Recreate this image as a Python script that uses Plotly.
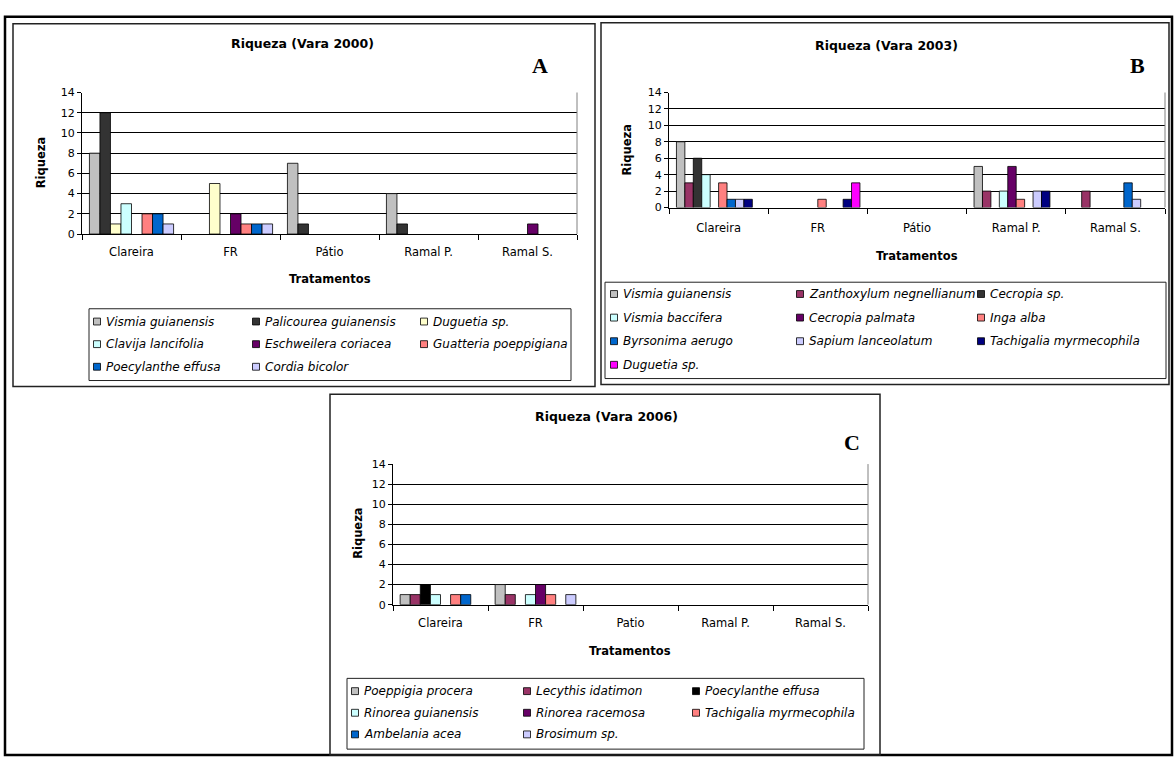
import plotly.graph_objects as go

W, H = 1174, 764


def fx(px):
    return px / W


def fy(py):
    return 1 - py / H


# ---------------- data ----------------
categories_a = ["Clareira", "FR", "Pátio", "Ramal P.", "Ramal S."]
categories_b = ["Clareira", "FR", "Pátio", "Ramal P.", "Ramal S."]
categories_c = ["Clareira", "FR", "Patio", "Ramal P.", "Ramal S."]

species_a = ["Vismia guianensis", "Palicourea guianensis", "Duguetia sp.",
             "Clavija lancifolia", "Eschweilera coriacea", "Guatteria poeppigiana",
             "Poecylanthe effusa", "Cordia bicolor"]
colors_a = ["#C0C0C0", "#333333", "#FFFFCC", "#CCFFFF", "#660066", "#FF8080",
            "#0066CC", "#CCCCFF"]
values_a = [
    [8, 0, 7, 4, 0],
    [12, 0, 1, 1, 0],
    [1, 5, 0, 0, 0],
    [3, 0, 0, 0, 0],
    [0, 2, 0, 0, 1],
    [2, 1, 0, 0, 0],
    [2, 1, 0, 0, 0],
    [1, 1, 0, 0, 0],
]

species_b = ["Vismia guianensis", "Zanthoxylum negnellianum", "Cecropia sp.",
             "Vismia baccifera", "Cecropia palmata", "Inga alba",
             "Byrsonima aerugo", "Sapium lanceolatum", "Tachigalia myrmecophila",
             "Duguetia sp."]
colors_b = ["#C0C0C0", "#993366", "#333333", "#CCFFFF", "#660066", "#FF8080",
            "#0066CC", "#CCCCFF", "#000080", "#FF00FF"]
values_b = [
    [8, 0, 0, 5, 0],
    [3, 0, 0, 2, 2],
    [6, 0, 0, 0, 0],
    [4, 0, 0, 2, 0],
    [0, 0, 0, 5, 0],
    [3, 1, 0, 1, 0],
    [1, 0, 0, 0, 3],
    [1, 0, 0, 2, 1],
    [1, 1, 0, 2, 0],
    [0, 3, 0, 0, 0],
]

species_c = ["Poeppigia procera", "Lecythis idatimon", "Poecylanthe effusa",
             "Rinorea guianensis", "Rinorea racemosa", "Tachigalia myrmecophila",
             "Ambelania acea", "Brosimum sp."]
colors_c = ["#C0C0C0", "#993366", "#000000", "#CCFFFF", "#660066", "#FF8080",
            "#0066CC", "#CCCCFF"]
values_c = [
    [1, 2, 0, 0, 0],
    [1, 1, 0, 0, 0],
    [2, 0, 0, 0, 0],
    [1, 1, 0, 0, 0],
    [0, 2, 0, 0, 0],
    [1, 1, 0, 0, 0],
    [1, 0, 0, 0, 0],
    [0, 1, 0, 0, 0],
]

titles = ["Riqueza (Vara 2000)", "Riqueza (Vara 2003)", "Riqueza (Vara 2006)"]
letters = ["A", "B", "C"]
y_ticks = [0, 2, 4, 6, 8, 10, 12, 14]
x_title = "Tratamentos"
y_title = "Riqueza"

# ---------------- layout geometry (pixels) ----------------
panels = [
    dict(cats=categories_a, species=species_a, colors=colors_a, values=values_a,
         box=(13, 18, 595, 387), plot=(82, 88, 577, 232), title=(302, 38),
         letter=(540, 61), ylab=(41, 160), xlab_y=278, standoff=7,
         legend=(89, 308, 571, 381), rows=[321, 344, 367], cols=[97, 256, 424]),
    dict(cats=categories_b, species=species_b, colors=colors_b, values=values_b,
         box=(601, 17, 1169, 385), plot=(669, 88, 1165, 205), title=(886, 40),
         letter=(1137, 61), ylab=(627, 147), xlab_y=254, standoff=10,
         legend=(605, 281, 1166, 379), rows=[293, 317, 341, 365], cols=[614, 800, 981]),
    dict(cats=categories_c, species=species_c, colors=colors_c, values=values_c,
         box=(330, 395, 880, 762), plot=(393, 466, 868, 609), title=(606, 418),
         letter=(852, 444), ylab=(358, 537), xlab_y=656, standoff=8,
         legend=(347, 684, 864, 756), rows=[697, 719, 741], cols=[355, 527, 696]),
]

FONT = "DejaVu Sans, Verdana, sans-serif"
fig = go.Figure()
shapes = []
annotations = []
layout_axes = {}

# outer frame
shapes.append(dict(type="rect", xref="paper", yref="paper",
                   x0=fx(5), x1=fx(1172), y0=fy(762), y1=fy(11),
                   line=dict(color="black", width=2.5)))

for i, p in enumerate(panels):
    n = i + 1
    xa = "x" if n == 1 else f"x{n}"
    ya = "y" if n == 1 else f"y{n}"
    xkey = "xaxis" if n == 1 else f"xaxis{n}"
    ykey = "yaxis" if n == 1 else f"yaxis{n}"

    for name, color, vals in zip(p["species"], p["colors"], p["values"]):
        fig.add_trace(go.Bar(
            x=p["cats"], y=[v if v else None for v in vals], name=name,
            xaxis=xa, yaxis=ya,
            marker=dict(color=color, line=dict(color="black", width=0.8)),
            showlegend=False,
        ))

    l, t, r, b = p["plot"]
    layout_axes[xkey] = dict(
        domain=[fx(l), fx(r)], anchor=ya, type="category",
        categoryorder="array", categoryarray=p["cats"],
        showline=True, linecolor="black", linewidth=1,
        ticks="outside", tickson="boundaries", ticklen=5, tickcolor="black",
        ticklabelstandoff=p["standoff"],
        tickfont=dict(family=FONT, size=11.5, color="black"),
        showgrid=False, zeroline=False, fixedrange=True,
    )
    layout_axes[ykey] = dict(
        domain=[fy(b), fy(t)], anchor=xa, range=[0, 14],
        tickvals=y_ticks, ticktext=[str(v) for v in y_ticks],
        showline=True, linecolor="black", linewidth=1,
        ticks="outside", ticklen=4, tickcolor="black",
        tickfont=dict(family=FONT, size=11, color="black"),
        showgrid=True, gridcolor="black", gridwidth=1,
        zeroline=False, fixedrange=True,
    )

    # plot area border (right side)
    shapes.append(dict(type="line", xref="paper", yref="paper",
                       x0=fx(r), x1=fx(r), y0=fy(b), y1=fy(t),
                       line=dict(color="#808080", width=1)))

    # panel box
    bl, bt, br, bb = p["box"]
    shapes.append(dict(type="rect", xref="paper", yref="paper",
                       x0=fx(bl), x1=fx(br), y0=fy(bb), y1=fy(bt),
                       line=dict(color="#222222", width=1.5)))

    # title, letter, axis titles
    annotations.append(dict(text=f"<b>{titles[i]}</b>", x=fx(p["title"][0]),
                            y=fy(p["title"][1]), xref="paper", yref="paper",
                            showarrow=False, xanchor="center", yanchor="middle",
                            font=dict(family=FONT, size=12.5, color="black")))
    annotations.append(dict(text=f"<b>{letters[i]}</b>", x=fx(p["letter"][0]),
                            y=fy(p["letter"][1]), xref="paper", yref="paper",
                            showarrow=False, xanchor="center", yanchor="middle",
                            font=dict(family="Liberation Serif, Times New Roman, serif",
                                      size=22, color="black")))
    annotations.append(dict(text=f"<b>{y_title}</b>", x=fx(p["ylab"][0]),
                            y=fy(p["ylab"][1]), xref="paper", yref="paper",
                            showarrow=False, textangle=-90, xanchor="center",
                            yanchor="middle",
                            font=dict(family=FONT, size=11.5, color="black")))
    annotations.append(dict(text=f"<b>{x_title}</b>", x=fx((l + r) / 2),
                            y=fy(p["xlab_y"]), xref="paper", yref="paper",
                            showarrow=False, xanchor="center", yanchor="middle",
                            font=dict(family=FONT, size=11.5, color="black")))

    # legend (built from the series names and colours)
    ll, lt, lr, lb = p["legend"]
    shapes.append(dict(type="rect", xref="paper", yref="paper",
                       x0=fx(ll), x1=fx(lr), y0=fy(lb), y1=fy(lt),
                       line=dict(color="#222222", width=1), fillcolor="white",
                       layer="below"))
    ncol = len(p["cols"])
    for k, (name, color) in enumerate(zip(p["species"], p["colors"])):
        row, col = divmod(k, ncol)
        cx = p["cols"][col]
        cy = p["rows"][row]
        shapes.append(dict(type="rect", xref="paper", yref="paper",
                           x0=fx(cx - 3.5), x1=fx(cx + 3.5),
                           y0=fy(cy + 3.5), y1=fy(cy - 3.5),
                           line=dict(color="black", width=0.8), fillcolor=color))
        annotations.append(dict(text=f"<i>{name}</i>", x=fx(cx + 7), y=fy(cy),
                                xref="paper", yref="paper", showarrow=False,
                                xanchor="left", yanchor="middle",
                                font=dict(family=FONT, size=12, color="black")))

fig.update_layout(
    width=W, height=H, margin=dict(l=0, r=0, t=0, b=0),
    paper_bgcolor="white", plot_bgcolor="white",
    barmode="group", bargap=0.15, bargroupgap=0,
    shapes=shapes, annotations=annotations, showlegend=False,
    font=dict(family=FONT, color="black"),
    **layout_axes,
)

fig.write_html(
    "out.html",
    config={"displayModeBar": False, "staticPlot": True},
    post_script=(
        "document.body.style.margin='0';document.body.style.padding='0';"
        "document.body.style.overflow='hidden';"
        "var gd=document.querySelector('.plotly-graph-div');"
        "gd.style.position='absolute';gd.style.left='0px';gd.style.top='0px';"
    ),
)
